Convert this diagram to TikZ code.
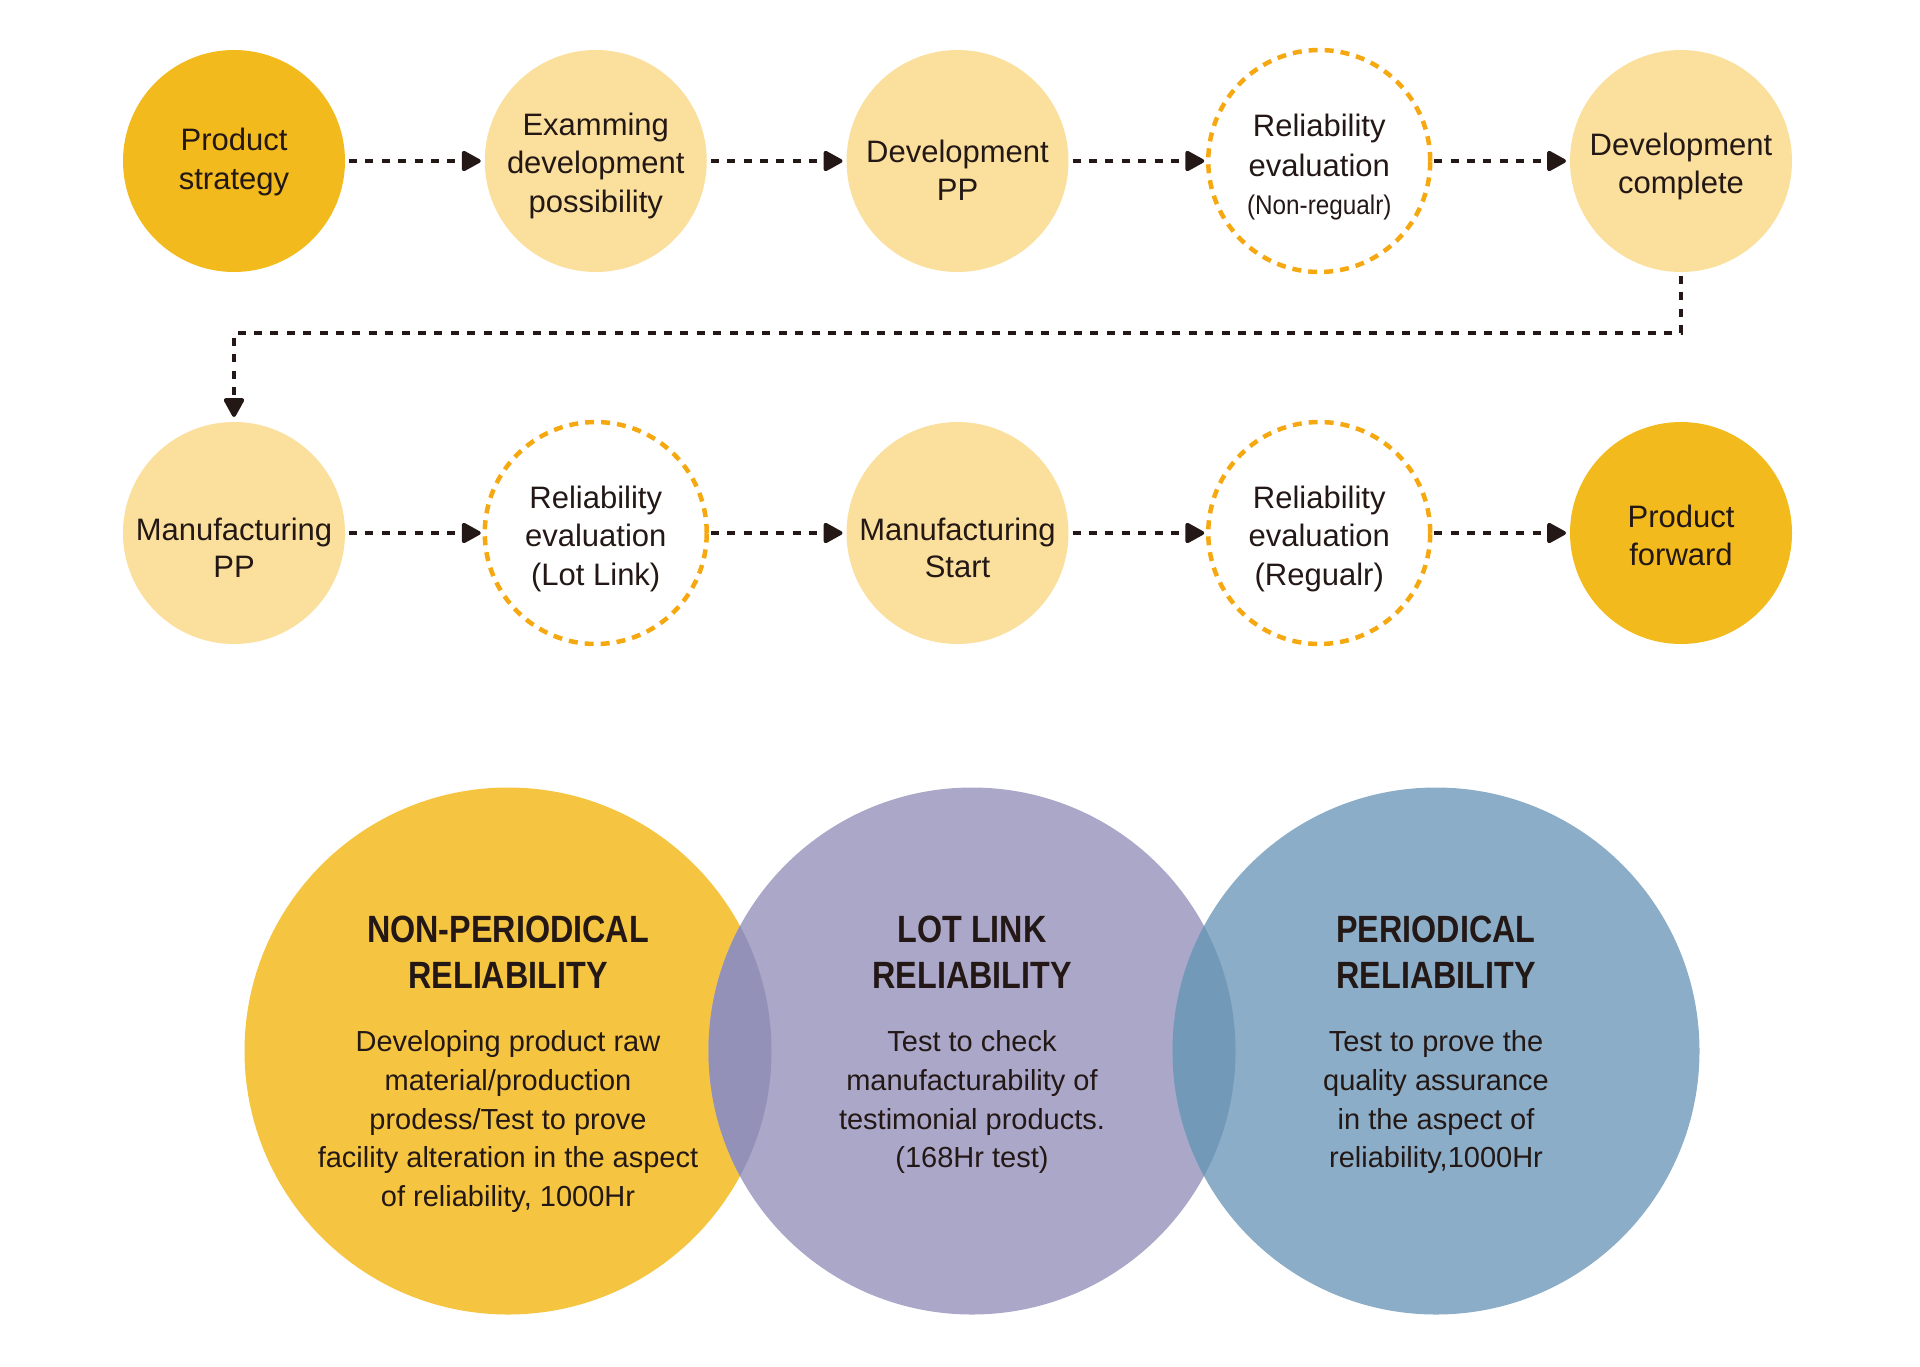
\documentclass[tikz,border=0pt]{standalone}
\usepackage{fontspec}
\setmainfont{Liberation Sans}
\newfontfamily\condfont{Liberation Sans}[FakeStretch=0.9]
\newfontfamily\titlefont{Liberation Sans}[FakeStretch=0.85]
\usetikzlibrary{arrows.meta}
\definecolor{darkY}{HTML}{F2BA1C}
\definecolor{lightY}{HTML}{FBDF9C}
\definecolor{dashO}{HTML}{F6A811}
\definecolor{txt}{HTML}{231815}
\definecolor{vY}{HTML}{F5C542}
\definecolor{vP}{HTML}{AAA7C8}
\definecolor{vB}{HTML}{8BADC8}
\definecolor{vYP}{HTML}{9491B8}
\definecolor{vPB}{HTML}{7399B9}
\begin{document}
\begin{tikzpicture}[x=1pt,y=-1pt,
  stage/.style={circle,minimum size=222pt,inner sep=0pt,outer sep=0pt},
  solidstage/.style={stage,fill=lightY},
  keystage/.style={stage,fill=darkY},
  evalstage/.style={stage,draw=dashO,line width=4.5pt,dash pattern=on 9pt off 7pt},
  rowtxt/.style={anchor=base,inner sep=0pt,text=txt,font=\fontsize{31}{38}\selectfont},
  smalltxt/.style={anchor=base,inner sep=0pt,text=txt,font=\condfont\fontsize{27}{34}\selectfont},
  conn/.style={draw=txt,line width=3.8pt,dash pattern=on 8pt off 8.4pt,
    -{Triangle[length=21pt,width=22pt,round]},shorten <=4pt,shorten >=4pt},
  vtitle/.style={anchor=base,inner sep=0pt,text=txt,font=\titlefont\bfseries\fontsize{38}{46}\selectfont},
  vbody/.style={anchor=base,inner sep=0pt,text=txt,font=\fontsize{29}{38}\selectfont}
]
\useasboundingbox (0,0) rectangle (1920,1366);

% ---------- row 1 ----------
\node[keystage]   (c1) at (234,161) {};
\node[solidstage] (c2) at (595.75,161) {};
\node[solidstage] (c3) at (957.5,161) {};
\node[evalstage]  (c4) at (1319.25,161) {};
\node[solidstage] (c5) at (1681,161) {};
% ---------- row 2 ----------
\node[solidstage] (c6) at (234,533) {};
\node[evalstage]  (c7) at (595.75,533) {};
\node[solidstage] (c8) at (957.5,533) {};
\node[evalstage]  (c9) at (1319.25,533) {};
\node[keystage]   (c10) at (1681,533) {};

% texts row 1
\node[rowtxt] (t1a) at (234,150) {Product};
\node[rowtxt] (t1b) at (234,189) {strategy};
\node[rowtxt] (t2a) at (595.75,135) {Examming};
\node[rowtxt] (t2b) at (595.75,173) {development};
\node[rowtxt] (t2c) at (595.75,212) {possibility};
\node[rowtxt] (t3a) at (957.5,162) {Development};
\node[rowtxt] (t3b) at (957.5,200) {PP};
\node[rowtxt] (t4a) at (1319.25,136) {Reliability};
\node[rowtxt] (t4b) at (1319.25,176) {evaluation};
\node[smalltxt] (t4c) at (1319.25,214) {(Non-regualr)};
\node[rowtxt] (t5a) at (1681,155) {Development};
\node[rowtxt] (t5b) at (1681,193) {complete};
% texts row 2
\node[rowtxt] (t6a) at (234,540) {Manufacturing};
\node[rowtxt] (t6b) at (234,577) {PP};
\node[rowtxt] (t7a) at (595.75,508) {Reliability};
\node[rowtxt] (t7b) at (595.75,546) {evaluation};
\node[rowtxt] (t7c) at (595.75,585) {(Lot Link)};
\node[rowtxt] (t8a) at (957.5,540) {Manufacturing};
\node[rowtxt] (t8b) at (957.5,577) {Start};
\node[rowtxt] (t9a) at (1319.25,508) {Reliability};
\node[rowtxt] (t9b) at (1319.25,546) {evaluation};
\node[rowtxt] (t9c) at (1319.25,585) {(Regualr)};
\node[rowtxt] (t10a) at (1681,527) {Product};
\node[rowtxt] (t10b) at (1681,565) {forward};

% connectors
\draw[conn] (c1) -- (c2);
\draw[conn] (c2) -- (c3);
\draw[conn] (c3) -- (c4);
\draw[conn] (c4) -- (c5);
\coordinate (k1) at (1681,333);
\coordinate (k2) at (234,333);
\draw[conn,shorten >=5pt] (c5.south) -- (k1) -- (k2) -- (c6.north);
\draw[conn] (c6) -- (c7);
\draw[conn] (c7) -- (c8);
\draw[conn] (c8) -- (c9);
\draw[conn] (c9) -- (c10);

% ---------- Venn ----------
\fill[vY] (508,1051) circle[radius=263.5];
\fill[vP] (972,1051) circle[radius=263.5];
\fill[vB] (1436,1051) circle[radius=263.5];
\begin{scope}
  \clip (508,1051) circle[radius=263.5];
  \fill[vYP] (972,1051) circle[radius=263.5];
\end{scope}
\begin{scope}
  \clip (972,1051) circle[radius=263.5];
  \fill[vPB] (1436,1051) circle[radius=263.5];
\end{scope}

\node[vtitle] (y1) at (508,942.7) {NON-PERIODICAL};
\node[vtitle] (y2) at (508,988.4) {RELIABILITY};
\node[vtitle] (p1) at (972,942.7) {LOT LINK};
\node[vtitle] (p2) at (972,988.4) {RELIABILITY};
\node[vtitle] (b1) at (1436,942.7) {PERIODICAL};
\node[vtitle] (b2) at (1436,988.4) {RELIABILITY};

\foreach \t [count=\i] in {Developing product raw,material/production,prodess/Test to prove,facility alteration in the aspect,{of reliability, 1000Hr}}
  \node[vbody] (yb\i) at (508,{1051.7+38.75*(\i-1)}) {\t};
\foreach \t [count=\i] in {Test to check,manufacturability of,testimonial products.,(168Hr test)}
  \node[vbody] (pb\i) at (972,{1051.7+38.75*(\i-1)}) {\t};
\foreach \t [count=\i] in {Test to prove the,quality assurance,in the aspect of,{reliability,1000Hr}}
  \node[vbody] (bb\i) at (1436,{1051.7+38.75*(\i-1)}) {\t};
\end{tikzpicture}
\end{document}
